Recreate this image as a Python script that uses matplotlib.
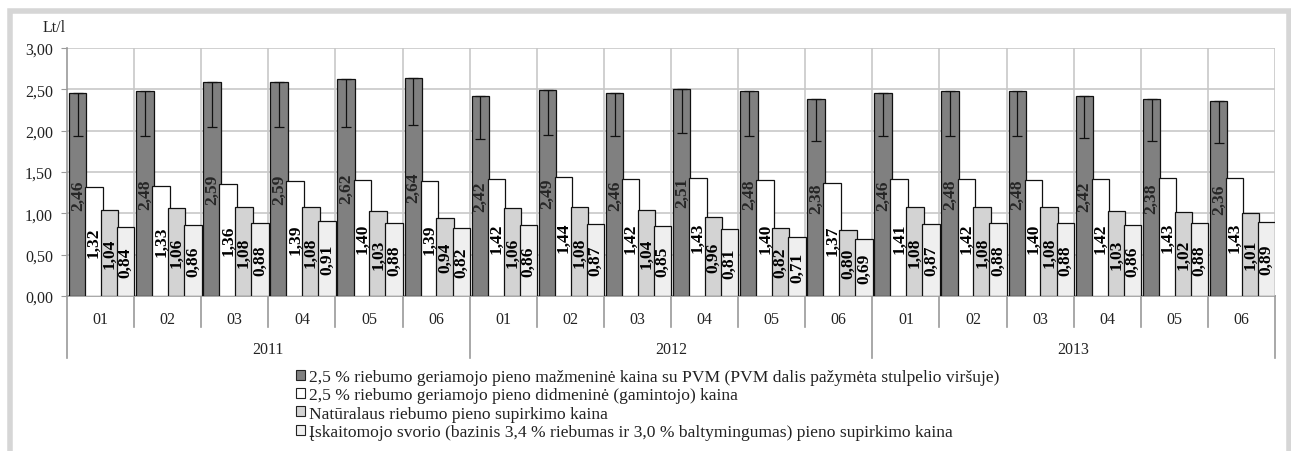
import matplotlib
matplotlib.use("Agg")
import matplotlib.pyplot as plt
import matplotlib.transforms as mtransforms
from matplotlib.patches import Rectangle, Patch
import numpy as np

plt.rcParams['font.family'] = ['Liberation Serif', 'DejaVu Serif']

years = ["2011", "2012", "2013"]
months = ["01", "02", "03", "04", "05", "06"]

retail = [2.46, 2.48, 2.59, 2.59, 2.62, 2.64,
          2.42, 2.49, 2.46, 2.51, 2.48, 2.38,
          2.46, 2.48, 2.48, 2.42, 2.38, 2.36]
wholesale = [1.32, 1.33, 1.36, 1.39, 1.40, 1.39,
             1.42, 1.44, 1.42, 1.43, 1.40, 1.37,
             1.41, 1.42, 1.40, 1.42, 1.43, 1.43]
natural = [1.04, 1.06, 1.08, 1.08, 1.03, 0.94,
           1.06, 1.08, 1.04, 0.96, 0.82, 0.80,
           1.08, 1.08, 1.08, 1.03, 1.02, 1.01]
basic = [0.84, 0.86, 0.88, 0.91, 0.88, 0.82,
         0.86, 0.87, 0.85, 0.81, 0.71, 0.69,
         0.87, 0.88, 0.88, 0.86, 0.88, 0.89]
vat_part = [0.53, 0.54, 0.55, 0.55, 0.57, 0.57,
            0.52, 0.54, 0.53, 0.54, 0.54, 0.51,
            0.53, 0.54, 0.54, 0.51, 0.51, 0.51]

series_names = [
    "2,5 % riebumo geriamojo pieno mažmeninė kaina su PVM (PVM dalis pažymėta stulpelio viršuje)",
    "2,5 % riebumo geriamojo pieno didmeninė (gamintojo) kaina",
    "Natūralaus riebumo pieno supirkimo kaina",
    "Įskaitomojo svorio (bazinis 3,4 % riebumas ir 3,0 % baltymingumas) pieno supirkimo kaina",
]
colors = ["#808080", "#ffffff", "#d3d3d3", "#efefef"]
label_colors = ["#262626", "#000000", "#000000", "#000000"]

W, H = 1291, 452
fig = plt.figure(figsize=(W / 100, H / 100), dpi=100)
fig.patch.set_facecolor("white")

ax = fig.add_axes([67 / W, 1 - 297 / H, (1275 - 67) / W, (297 - 49) / H])

n = len(retail)
x0 = np.arange(n)
offsets = [0.16, 0.40, 0.635, 0.875]
width = 0.26
all_series = [retail, wholesale, natural, basic]

for s, (vals, col, lc) in enumerate(zip(all_series, colors, label_colors)):
    xs = x0 + offsets[s]
    ax.bar(xs, vals, width=width, color=col, edgecolor="#111111",
           linewidth=0.9, zorder=3 + s * 0.01)
    for xi, v in zip(xs, vals):
        ax.text(xi, v / 2, f"{v:.2f}".replace(".", ","), rotation=90,
                ha="center", va="center", fontsize=12.5, fontweight="bold",
                color=lc, zorder=6)
    if s == 0:
        ax.errorbar(xs, vals, yerr=[vat_part, [0] * n], fmt="none",
                    ecolor="#111111", elinewidth=0.9, capsize=3.5, capthick=0.9,
                    zorder=5)

ax.set_xlim(0, n)
ax.set_ylim(0, 3.0)
ax.set_yticks(np.arange(0, 3.01, 0.5))
ax.set_yticklabels([f"{t:.2f}".replace(".", ",") for t in np.arange(0, 3.01, 0.5)])
ax.tick_params(axis="y", length=4, color="#9a9a9a", pad=6, labelsize=11.5,
               labelcolor="#222222")
ax.set_xticks([])
for t in np.arange(0.5, 3.01, 0.5):
    ax.axhline(t, color="#c8c8c8", linewidth=1.2, zorder=1)
for b in range(1, n + 1):
    ax.axvline(b, color="#c8c8c8", linewidth=1.2, zorder=1)
for side in ["top", "right"]:
    ax.spines[side].set_visible(False)
ax.spines["left"].set_color("#9a9a9a")
ax.spines["bottom"].set_color("#9a9a9a")
ax.spines["left"].set_linewidth(1.2)
ax.spines["bottom"].set_linewidth(1.2)

# category axis (months / years)
trans = mtransforms.blended_transform_factory(ax.transData, fig.transFigure)
y_axis = 1 - 297 / H
y_month = 1 - 320 / H
y_msep = 1 - 328 / H
y_year = 1 - 350 / H
y_ysep = 1 - 359 / H
for i in range(n):
    ax.text(i + 0.5, y_month, months[i % 6], transform=trans, ha="center",
            va="center", fontsize=11.5, color="#222222")
for b in range(n + 1):
    bottom = y_ysep if b % 6 == 0 else y_msep
    ax.plot([b, b], [y_axis, bottom], transform=trans, color="#9a9a9a",
            linewidth=1.2, clip_on=False)
for j, yr in enumerate(years):
    ax.text(j * 6 + 3, y_year, yr, transform=trans, ha="center", va="center",
            fontsize=11.5, color="#222222")

fig.text(43 / W, 1 - 28 / H, "Lt/l", ha="left", va="center", fontsize=11.5,
         color="#222222")

handles = [Patch(facecolor=c, edgecolor="#222222", linewidth=0.8) for c in colors]
fig.legend(handles, series_names, loc="upper left",
           bbox_to_anchor=(296 / W, 1 - 370 / H), frameon=False,
           fontsize=12.6, handlelength=0.5, handleheight=0.5,
           handletextpad=0.25, labelspacing=0.13, borderpad=0, borderaxespad=0,
           labelcolor="#222222")

# outer frame
fig.add_artist(Rectangle((10 / W, -0.05), (1289 - 10) / W, 1.05 - 12 / H,
                         transform=fig.transFigure, fill=False,
                         edgecolor="#d6d6d6", linewidth=4))

fig.savefig("out.png", dpi=100)
